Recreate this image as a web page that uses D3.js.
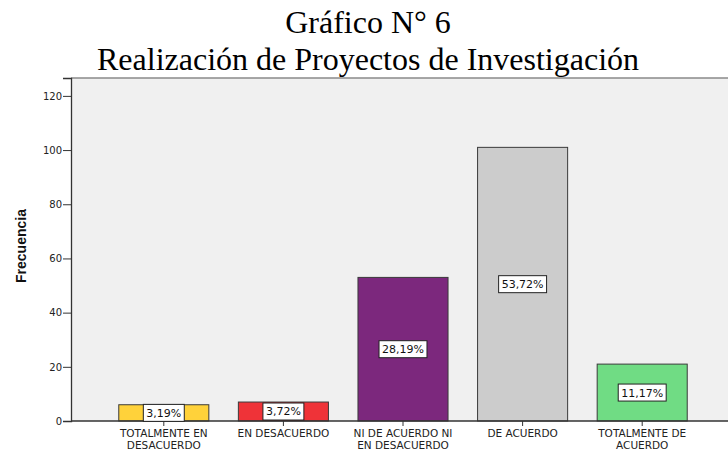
<!DOCTYPE html>
<html><head><meta charset="utf-8">
<script src="https://cdn.jsdelivr.net/npm/d3@7"></script>
<style>html,body{margin:0;background:#fff;overflow:hidden;} svg{display:block;}</style>
</head><body>
<script>
const categories = [["TOTALMENTE EN","DESACUERDO"],["EN DESACUERDO"],["NI DE ACUERDO NI","EN DESACUERDO"],["DE ACUERDO"],["TOTALMENTE DE","ACUERDO"]];
const frequencies = [6, 7, 53, 101, 21];
const percentLabels = ["3,19%","3,72%","28,19%","53,72%","11,17%"];
const barColors = ["#FFD23A","#EF3338","#7C287D","#CCCCCC","#70DC84"];
const yTicks = [0,20,40,60,80,100,120];
const titleLines = ["Gráfico N° 6","Realización de Proyectos de Investigación"];
const yTitle = "Frecuencia";

const W = 728, H = 453;
const svg = d3.select("body").append("svg").attr("width", W).attr("height", H);

const plot = {left: 71, right: W, top: 78, bottom: 421};
const idx = d3.range(categories.length);
const x = d3.scaleBand().domain(idx).range([104, 702]).paddingInner(0.247).paddingOuter(0.1235);
const y = d3.scaleLinear().domain([0, 126.6]).range([plot.bottom, plot.top]);

// background
svg.append("rect").attr("x", plot.left).attr("y", plot.top)
  .attr("width", plot.right - plot.left).attr("height", plot.bottom - plot.top)
  .attr("fill", "#F0F0F0");
svg.append("line").attr("x1", plot.left).attr("x2", W).attr("y1", plot.top).attr("y2", plot.top)
  .attr("stroke", "#8a8a8a").attr("stroke-width", 1.5);

// title
svg.append("g").selectAll("text").data(titleLines).join("text")
  .attr("x", 368).attr("y", (d, i) => i === 0 ? 33 : 70)
  .attr("text-anchor", "middle")
  .attr("font-family", "'Liberation Serif','Times New Roman',serif")
  .attr("font-size", 32).attr("fill", "#000").text(d => d);

// bars
svg.append("g").selectAll("rect").data(idx).join("rect")
  .attr("x", i => x(i)).attr("width", x.bandwidth())
  .attr("y", i => y(frequencies[i])).attr("height", i => y(0) - y(frequencies[i]))
  .attr("fill", i => barColors[i]).attr("stroke", "#3a3a3a").attr("stroke-width", 1);

// y axis
const yAxis = svg.append("g").attr("transform", `translate(${plot.left},0)`)
  .call(d3.axisLeft(y).tickValues(yTicks).tickSize(8).tickPadding(1));
yAxis.select(".domain").attr("stroke", "#333").attr("stroke-width", 1.3);
yAxis.selectAll(".tick line").attr("stroke", "#333");
yAxis.selectAll(".tick text").attr("font-family", "'DejaVu Sans',sans-serif").attr("font-size", 10).attr("fill", "#222");

// x axis
const xAxis = svg.append("g").attr("transform", `translate(0,${plot.bottom})`)
  .call(d3.axisBottom(x).tickSize(5).tickSizeOuter(0).tickFormat(""));
xAxis.select(".domain").remove();
xAxis.selectAll(".tick line").attr("stroke", "#333");
svg.append("line").attr("x1", plot.left).attr("x2", W).attr("y1", plot.bottom).attr("y2", plot.bottom)
  .attr("stroke", "#333").attr("stroke-width", 1.3);

const xl = svg.append("g").selectAll("text").data(idx).join("text")
  .attr("x", i => x(i) + x.bandwidth() / 2).attr("y", 437)
  .attr("text-anchor", "middle")
  .attr("font-family", "'DejaVu Sans',sans-serif").attr("font-size", 10.5).attr("fill", "#222");
xl.selectAll("tspan").data(i => categories[i].map(t => ({t, cx: x(i) + x.bandwidth() / 2}))).join("tspan")
  .attr("x", d => d.cx).attr("dy", (d, j) => j === 0 ? 0 : 11.5).text(d => d.t);

// y title
svg.append("text").attr("transform", "translate(26,246) rotate(-90)")
  .attr("text-anchor", "middle")
  .attr("font-family", "'Liberation Sans',Arial,sans-serif").attr("font-weight", "bold")
  .attr("font-size", 14).attr("fill", "#111").text(yTitle);

// percent labels
const lab = svg.append("g").selectAll("g").data(idx).join("g")
  .attr("transform", i => `translate(${x(i) + x.bandwidth() / 2},${(y(frequencies[i]) + y(0)) / 2})`);
lab.append("text").attr("text-anchor", "middle").attr("dy", "0.36em")
  .attr("font-family", "'DejaVu Sans',sans-serif").attr("font-size", 11).attr("fill", "#111")
  .text(i => percentLabels[i]);
lab.each(function() {
  const g = d3.select(this);
  const bb = g.select("text").node().getBBox();
  g.insert("rect", "text").attr("x", bb.x - 3).attr("y", -8.5).attr("width", bb.width + 6).attr("height", 17)
    .attr("fill", "#fff").attr("stroke", "#222").attr("stroke-width", 1);
});

// clean margin below the axis at the right edge
svg.append("rect").attr("x", 700).attr("y", plot.bottom + 1).attr("width", W - 700).attr("height", H - plot.bottom - 1)
  .attr("fill", "#fff");
</script>
</body></html>
